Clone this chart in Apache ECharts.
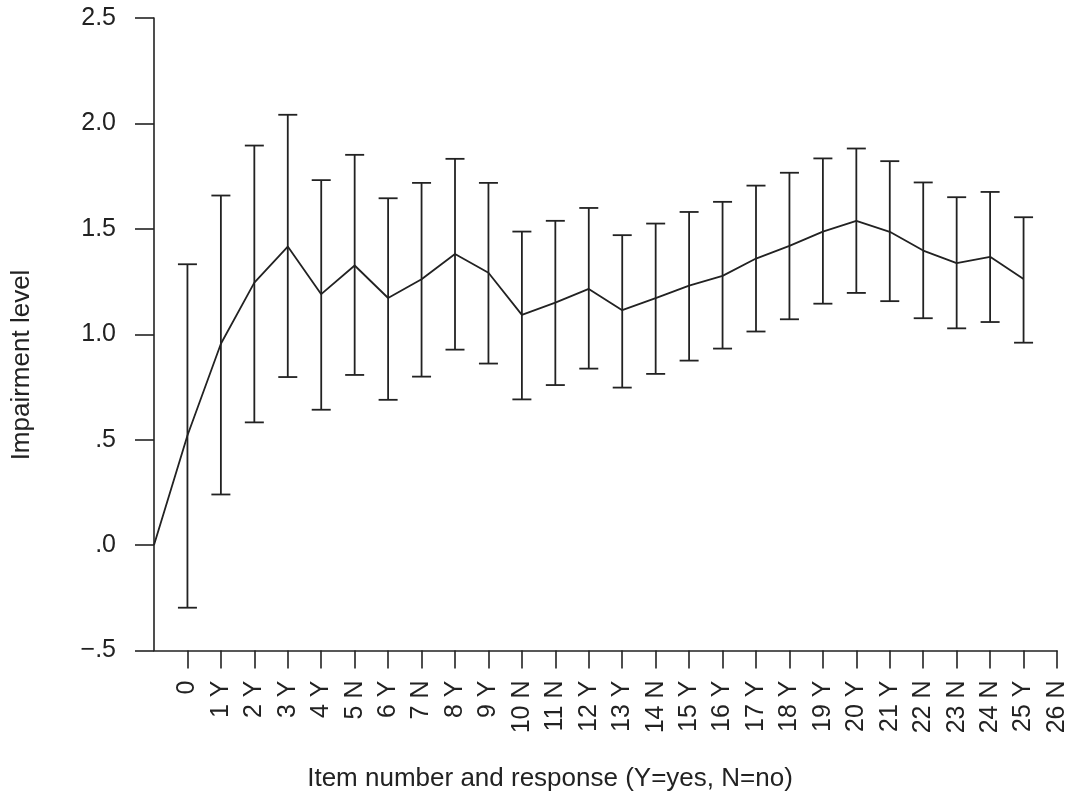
<!DOCTYPE html>
<html>
<head>
<meta charset="utf-8">
<script src="https://cdn.jsdelivr.net/npm/echarts@6/dist/echarts.min.js"></script>
<style>html,body{margin:0;padding:0;background:#fff}#c{width:1080px;height:798px}</style>
</head>
<body>
<div id="c"></div>
<script>
// Categories: first (blank) is the starting point at the y-axis
var itemLabels = ["", "0", "1 Y", "2 Y", "3 Y", "4 Y", "5 N", "6 Y", "7 N", "8 Y", "9 Y", "10 N", "11 N", "12 Y", "13 Y", "14 N", "15 Y", "16 Y", "17 Y", "18 Y", "19 Y", "20 Y", "21 Y", "22 N", "23 N", "24 N", "25 Y", "26 N"];
// Mean impairment level (start point, then items 0..25)
var meanValues = [0, 0.52, 0.955, 1.245, 1.416, 1.19, 1.326, 1.172, 1.261, 1.381, 1.292, 1.092, 1.150, 1.215, 1.114, 1.171, 1.231, 1.277, 1.359, 1.419, 1.487, 1.538, 1.486, 1.397, 1.337, 1.367, 1.262];
// Error bar limits for items 0..25
var upperValues = [1.332, 1.658, 1.895, 2.041, 1.731, 1.851, 1.645, 1.718, 1.832, 1.718, 1.487, 1.538, 1.599, 1.470, 1.525, 1.580, 1.628, 1.705, 1.766, 1.834, 1.881, 1.821, 1.720, 1.650, 1.675, 1.555];
var lowerValues = [-0.297, 0.24, 0.582, 0.797, 0.642, 0.807, 0.689, 0.799, 0.927, 0.861, 0.691, 0.759, 0.837, 0.747, 0.812, 0.875, 0.932, 1.013, 1.071, 1.145, 1.196, 1.157, 1.076, 1.028, 1.058, 0.960];
var yTickLabels = ["\u2212.5", ".0", ".5", "1.0", "1.5", "2.0", "2.5"];
var xTitle = "Item number and response (Y=yes, N=no)";
var yTitle = "Impairment level";

var INK = '#222222';
var FONT = '"Liberation Sans", Arial, Helvetica, sans-serif';

var errData = upperValues.map(function (u, i) { return [i + 1, lowerValues[i], u]; });

var chart = echarts.init(document.getElementById('c'));
chart.setOption({
  animation: false,
  backgroundColor: '#fff',
  grid: { left: 154, right: 23, top: 18, bottom: 147.5, containLabel: false },
  xAxis: {
    type: 'category',
    data: itemLabels,
    boundaryGap: false,
    axisLine: { onZero: false, lineStyle: { color: INK, width: 1.6 } },
    axisTick: {
      length: 18, inside: false,
      interval: function (idx) { return idx !== 0; },
      lineStyle: { color: INK, width: 1.6 }
    },
    axisLabel: {
      interval: 0, rotate: 90, margin: 30,
      fontSize: 25, color: INK, fontFamily: FONT
    },
    splitLine: { show: false }
  },
  yAxis: {
    type: 'value',
    min: -0.5, max: 2.5, interval: 0.5,
    axisLine: { show: true, onZero: false, lineStyle: { color: INK, width: 1.6 } },
    axisTick: { show: true, length: 19, lineStyle: { color: INK, width: 1.6 } },
    axisLabel: {
      margin: 38, fontSize: 25, color: INK, fontFamily: FONT,
      formatter: function (v) { return yTickLabels[Math.round((v + 0.5) / 0.5)]; }
    },
    splitLine: { show: false }
  },
  graphic: [
    { type: 'text', x: 550, y: 779, style: { text: xTitle, fontSize: 26, fontFamily: FONT, fill: INK, align: 'center', verticalAlign: 'middle' } },
    { type: 'text', x: 22, y: 365, rotation: Math.PI / 2, style: { text: yTitle, fontSize: 26, fontFamily: FONT, fill: INK, align: 'center', verticalAlign: 'middle' } }
  ],
  series: [
    {
      type: 'line',
      data: meanValues,
      symbol: 'none',
      lineStyle: { color: INK, width: 1.8 },
      z: 3
    },
    {
      type: 'custom',
      data: errData,
      encode: { x: 0, y: [1, 2] },
      renderItem: function (params, api) {
        var x = api.value(0);
        var lo = api.coord([x, api.value(1)]);
        var hi = api.coord([x, api.value(2)]);
        var hw = 9.5;
        var st = { stroke: INK, lineWidth: 1.8, fill: null };
        return {
          type: 'group',
          children: [
            { type: 'line', shape: { x1: lo[0], y1: lo[1], x2: hi[0], y2: hi[1] }, style: st },
            { type: 'line', shape: { x1: hi[0] - hw, y1: hi[1], x2: hi[0] + hw, y2: hi[1] }, style: st },
            { type: 'line', shape: { x1: lo[0] - hw, y1: lo[1], x2: lo[0] + hw, y2: lo[1] }, style: st }
          ]
        };
      },
      z: 2
    }
  ]
});
</script>
</body>
</html>
